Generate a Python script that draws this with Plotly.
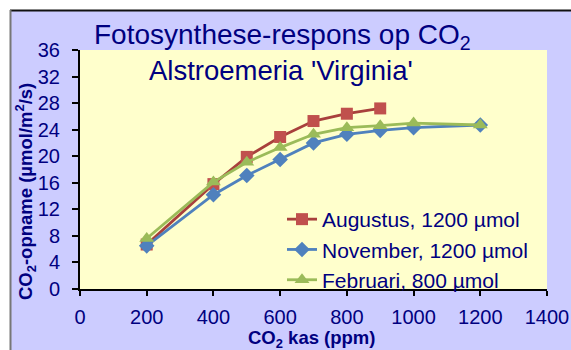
import plotly.graph_objects as go

# Data
aug_x = [200, 400, 500, 600, 700, 800, 900]
aug_y = [6.7, 15.8, 19.9, 22.9, 25.3, 26.4, 27.2]
nov_x = [200, 400, 500, 600, 700, 800, 900, 1000, 1200]
nov_y = [6.5, 14.2, 17.1, 19.5, 22.0, 23.3, 23.9, 24.3, 24.7]
feb_x = [200, 400, 500, 600, 700, 800, 900, 1000, 1200]
feb_y = [7.6, 16.1, 19.1, 21.3, 23.3, 24.3, 24.6, 25.0, 24.7]
x_ticks = [0, 200, 400, 600, 800, 1000, 1200, 1400]
y_ticks = [0, 4, 8, 12, 16, 20, 24, 28, 32, 36]

NAVY = "#000080"
FONT = "Liberation Sans, Arial, sans-serif"

fig = go.Figure()
fig.add_trace(go.Scatter(x=aug_x, y=aug_y, mode="lines+markers",
                         name="Augustus, 1200 µmol",
                         line=dict(color="#A8403C", width=2.8),
                         marker=dict(symbol="square", size=12, color="#C0504D")))
fig.add_trace(go.Scatter(x=nov_x, y=nov_y, mode="lines+markers",
                         name="November, 1200 µmol",
                         line=dict(color="#4F81BD", width=2.8),
                         marker=dict(symbol="diamond", size=12, color="#4F81BD")))
fig.add_trace(go.Scatter(x=feb_x, y=feb_y, mode="lines+markers",
                         name="Februari, 800 µmol",
                         line=dict(color="#9BBB59", width=2.8),
                         marker=dict(symbol="triangle-up", size=13, color="#9BBB59")))

W, H = 571, 350
L, R, T, B = 80, 24, 50, 61
pw, ph = W - L - R, H - T - B

def px(xp):
    return (xp - L) / pw

def py(yp):
    return (H - B - yp) / ph

fig.update_layout(
    width=W, height=H,
    margin=dict(l=L, r=R, t=T, b=B, autoexpand=False),
    paper_bgcolor="#CCCCFF",
    plot_bgcolor="#FFFFCC",
    font=dict(family=FONT, color=NAVY),
    showlegend=True,
    legend=dict(x=px(282), y=py(199), xanchor="left", yanchor="top",
                bgcolor="rgba(0,0,0,0)", font=dict(size=21, color=NAVY),
                itemwidth=30, tracegroupgap=0),
    xaxis=dict(range=[0, 1400], tickvals=x_ticks, ticks="outside", ticklen=5,
               tickwidth=1.5, tickcolor="black", showline=True, linecolor="black",
               linewidth=2, showgrid=False, zeroline=False, automargin=False,
               tickfont=dict(size=20, color=NAVY), ticklabelstandoff=4),
    yaxis=dict(range=[0, 36], tickvals=y_ticks, ticks="outside", ticklen=6,
               tickwidth=1.5, tickcolor="black", showline=True, linecolor="black",
               linewidth=2, showgrid=False, zeroline=False, automargin=False,
               tickfont=dict(size=20, color=NAVY), ticklabelstandoff=8),
    shapes=[
        dict(type="rect", xref="paper", yref="paper", x0=px(0), x1=px(W + 5),
             y0=py(0), y1=py(10), fillcolor="white", line=dict(width=0), layer="above"),
        dict(type="rect", xref="paper", yref="paper", x0=px(0), x1=px(10),
             y0=py(0), y1=py(H + 5), fillcolor="white", line=dict(width=0), layer="above"),
        dict(type="line", xref="paper", yref="paper", x0=px(10), x1=px(W + 5),
             y0=py(10.5), y1=py(10.5), line=dict(color="#111111", width=2), layer="above"),
        dict(type="line", xref="paper", yref="paper", x0=px(10.5), x1=px(10.5),
             y0=py(10), y1=py(H + 5), line=dict(color="#777777", width=2), layer="above"),
    ],
    annotations=[
        dict(text="Fotosynthese-respons op CO<sub>2</sub>", xref="paper", yref="paper",
             x=px(282), y=py(37), xanchor="center", yanchor="middle", showarrow=False,
             font=dict(size=28, color=NAVY)),
        dict(text="Alstroemeria 'Virginia'", xref="paper", yref="paper",
             x=px(281), y=py(70), xanchor="center", yanchor="middle", showarrow=False,
             font=dict(size=27.5, color=NAVY)),
        dict(text="<b>CO<sub>2</sub> kas (ppm)</b>", xref="paper", yref="paper",
             x=px(311), y=py(339), xanchor="center", yanchor="middle", showarrow=False,
             font=dict(size=18.5, color=NAVY)),
        dict(text="<b>CO<sub>2</sub>-opname (µmol/m<sup>2</sup>/s)</b>", xref="paper",
             yref="paper", x=px(25), y=py(192), xanchor="center", yanchor="middle",
             textangle=-90, showarrow=False, font=dict(size=18.5, color=NAVY)),
    ],
)

fig.write_html("out.html")
